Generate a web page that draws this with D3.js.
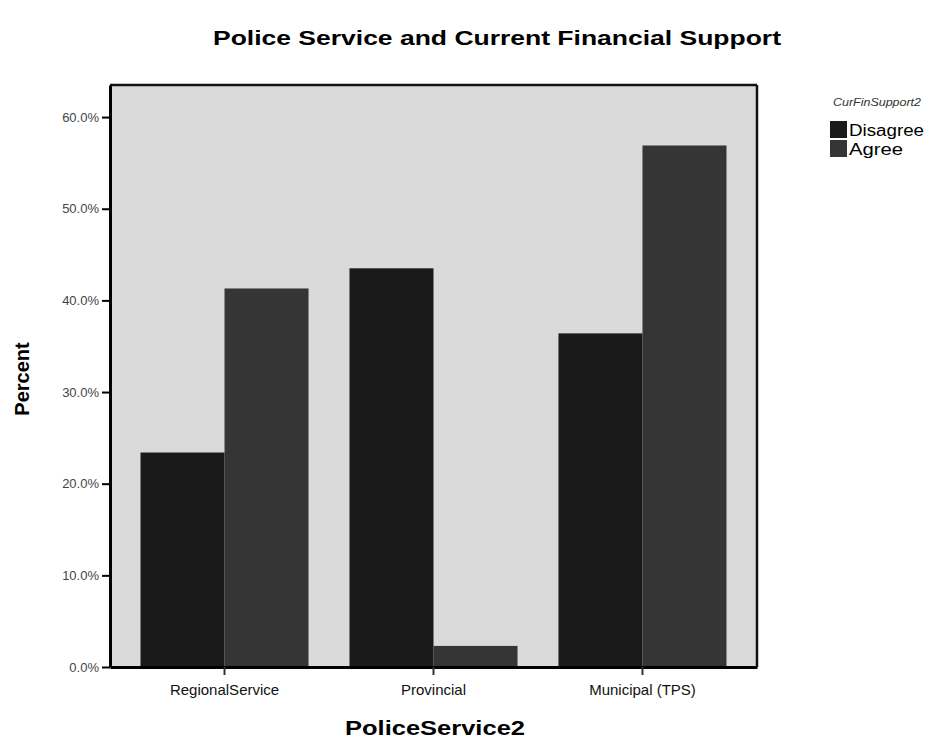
<!DOCTYPE html>
<html>
<head>
<meta charset="utf-8">
<script src="https://cdn.jsdelivr.net/npm/d3@7"></script>
<style>
  html, body { margin: 0; padding: 0; background: #fff; }
  svg { display: block; }
  text { font-family: "Liberation Sans", Arial, sans-serif; }
</style>
</head>
<body>
<svg id="chart" width="927" height="742"></svg>
<script>
// ---- data ----
const categories = ["RegionalService", "Provincial", "Municipal (TPS)"];
const seriesNames = ["Disagree", "Agree"];
const disagreeValues = [23.4, 43.5, 36.4];
const agreeValues = [41.3, 2.3, 56.9];
const yTicks = [0, 10, 20, 30, 40, 50, 60];
const titleText = "Police Service and Current Financial Support";
const xTitle = "PoliceService2";
const yTitle = "Percent";
const legendTitle = "CurFinSupport2";

// ---- layout ----
const svg = d3.select("#chart");
const plot = { left: 110, right: 757, top: 85, bottom: 667 };
const colors = { Disagree: "#1a1a1a", Agree: "#353535" };

const x = d3.scaleBand().domain(categories)
  .range([plot.left, plot.right]).paddingInner(0.196).paddingOuter(0.146);
const xs = d3.scaleBand().domain(seriesNames).range([0, x.bandwidth()]);
const y = d3.scaleLinear().domain([0, 63.5]).range([plot.bottom, plot.top]);

// plot background
svg.append("rect")
  .attr("x", plot.left).attr("y", plot.top)
  .attr("width", plot.right - plot.left).attr("height", plot.bottom - plot.top)
  .attr("fill", "#dadada");

const rows = categories.map((c, i) => ({ cat: c, Disagree: disagreeValues[i], Agree: agreeValues[i] }));

const g = svg.append("g");
g.selectAll("g.cat").data(rows).join("g")
  .attr("class", "cat")
  .attr("transform", d => `translate(${x(d.cat)},0)`)
  .selectAll("rect").data(d => seriesNames.map(s => ({ s, v: d[s] }))).join("rect")
  .attr("x", d => xs(d.s)).attr("width", xs.bandwidth())
  .attr("y", d => y(d.v)).attr("height", d => y(0) - y(d.v))
  .attr("fill", d => colors[d.s]);

// frame top/right
svg.append("line").attr("x1", plot.left).attr("x2", plot.right).attr("y1", plot.top).attr("y2", plot.top)
  .attr("stroke", "#111").attr("stroke-width", 2.5);
svg.append("line").attr("x1", plot.right).attr("x2", plot.right).attr("y1", plot.top).attr("y2", plot.bottom)
  .attr("stroke", "#111").attr("stroke-width", 2.5);

// y axis
const yAxis = svg.append("g").attr("transform", `translate(${plot.left},0)`)
  .call(d3.axisLeft(y).tickValues(yTicks).tickSize(8).tickSizeOuter(0).tickPadding(3)
    .tickFormat(d => d3.format(".1f")(d) + "%"));
yAxis.select(".domain").attr("stroke", "#000").attr("stroke-width", 3);
yAxis.selectAll(".tick line").attr("stroke", "#000").attr("stroke-width", 2);
yAxis.selectAll(".tick text").attr("font-size", 13).attr("fill", "#444")
  .attr("font-family", "'Liberation Sans', Arial, sans-serif");

// x axis
const xAxis = svg.append("g").attr("transform", `translate(0,${plot.bottom})`)
  .call(d3.axisBottom(x).tickSize(8).tickSizeOuter(0).tickPadding(9));
xAxis.select(".domain").attr("stroke", "#000").attr("stroke-width", 3);
xAxis.selectAll(".tick line").attr("stroke", "#333").attr("stroke-width", 2);
xAxis.selectAll(".tick text").attr("font-size", 15).attr("fill", "#111")
  .attr("font-family", "'Liberation Sans', Arial, sans-serif");

// titles
svg.append("text").attr("x", 497).attr("y", 45).attr("text-anchor", "middle")
  .attr("font-size", 20).attr("font-weight", "bold").attr("fill", "#000")
  .attr("textLength", 568).attr("lengthAdjust", "spacingAndGlyphs")
  .text(titleText);

svg.append("text").attr("x", 435).attr("y", 735).attr("text-anchor", "middle")
  .attr("font-size", 20).attr("font-weight", "bold").attr("fill", "#000")
  .attr("textLength", 180).attr("lengthAdjust", "spacingAndGlyphs")
  .text(xTitle);

svg.append("text").attr("transform", "translate(29,379) rotate(-90)").attr("text-anchor", "middle")
  .attr("font-size", 20).attr("font-weight", "bold").attr("fill", "#000")
  .text(yTitle);

// legend
const lg = svg.append("g");
lg.append("text").attr("x", 877).attr("y", 106).attr("text-anchor", "middle")
  .attr("font-size", 11).attr("font-style", "italic").attr("fill", "#333")
  .attr("textLength", 88).attr("lengthAdjust", "spacingAndGlyphs").text(legendTitle);
const items = lg.selectAll("g.item").data(seriesNames).join("g").attr("class", "item")
  .attr("transform", (d, i) => `translate(830,${121 + i * 19})`);
items.append("rect").attr("width", 17).attr("height", 17).attr("fill", d => colors[d]);
items.append("text").attr("x", 19).attr("y", 15).attr("font-size", 16).attr("fill", "#000")
  .attr("textLength", (d, i) => i === 0 ? 75 : 54).attr("lengthAdjust", "spacingAndGlyphs")
  .text(d => d);
</script>
</body>
</html>
